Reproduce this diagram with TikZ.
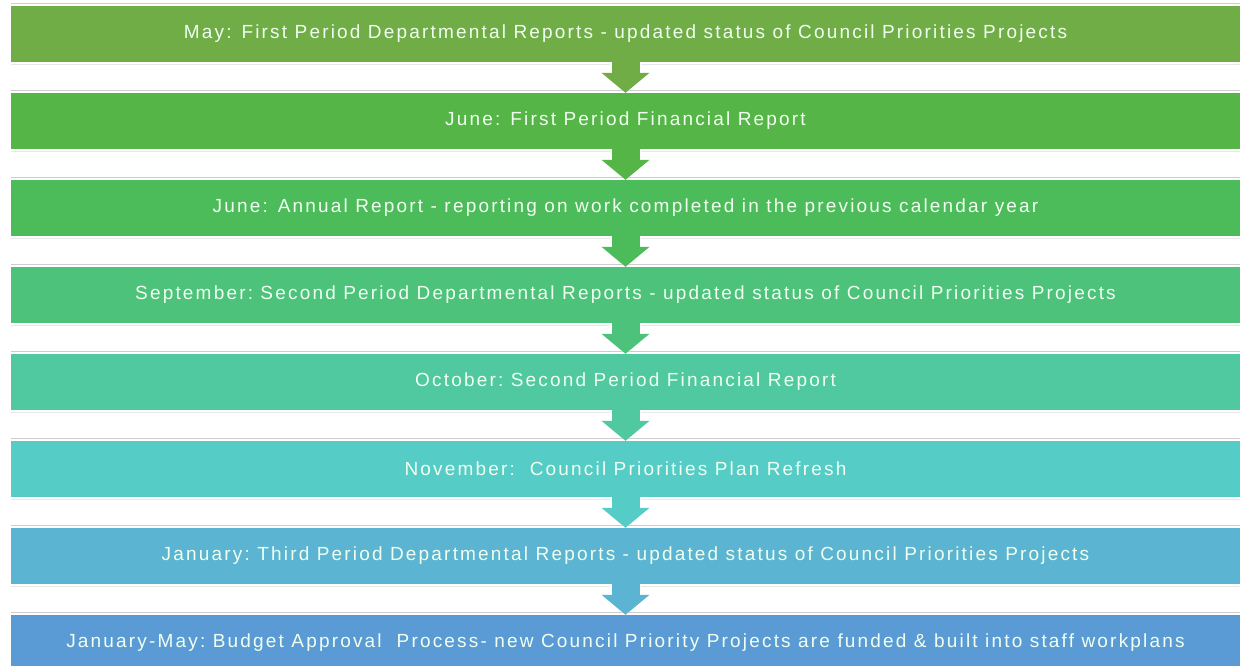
\documentclass[tikz,border=0pt]{standalone}
\usepackage{fontspec}
\setmainfont{Liberation Sans}
\newfontfamily\repfont[LetterSpace=11.5]{Liberation Sans}
\usetikzlibrary{arrows.meta}

\definecolor{rep1}{HTML}{70AD47}
\definecolor{rep2}{HTML}{55B546}
\definecolor{rep3}{HTML}{4CBB5A}
\definecolor{rep4}{HTML}{4CC27A}
\definecolor{rep5}{HTML}{50C8A0}
\definecolor{rep6}{HTML}{55CCC5}
\definecolor{rep7}{HTML}{5AB4D2}
\definecolor{rep8}{HTML}{5B9BD5}

\tikzset{
  report/.style={fill=#1, text=white!94!green, minimum width=1229pt, minimum height=56pt,
    inner sep=0pt, font=\repfont\fontsize{19}{21}\selectfont},
  flowedge/.style={white, line width=31pt, -{Triangle[width=53pt,length=22pt]}},
  flow/.style={#1, line width=28pt, -{Triangle[width=47pt,length=20pt]}}
}

\begin{document}
\begin{tikzpicture}[x=1pt,y=-1pt]
\useasboundingbox (0,0) rectangle (1245,666);

% boxes %
\foreach \i/\txt in {
  1/{May: First Period Departmental\ Reports\ - updated\ status of Council Priorities Projects},
  2/{June: First Period Financial Report},
  3/{June: Annual Report\ - reporting\ on work completed in the previous\ calendar\ year},
  4/{September:\ Second Period Departmental\ Reports\ - updated\ status of Council Priorities Projects},
  5/{October:\ Second Period Financial Report},
  6/{November:\ \ Council Priorities Plan Refresh},
  7/{January:\ Third Period Departmental\ Reports\ - updated\ status of Council Priorities Projects},
  8/{January-May:\ Budget Approval\ \ Process- new Council Priority Projects are funded\ \& built into staff workplans}}
{
\node[report=rep\i] (r\i) at (625.5,{34+87*(\i-1)}) {\txt};
% shadow lines
\draw[gray!40, line width=0.7pt] ([yshift=2pt]r\i.north west) -- ([yshift=2pt]r\i.north east);
\draw[gray!18, line width=0.7pt] ([yshift=-2pt]r\i.south west) -- ([yshift=-2pt]r\i.south east);
}

% arrows %
\foreach \i [evaluate=\i as \j using int(\i+1)] in {1,...,7}
{
\draw[flowedge] (r\i.south) -- (r\j.north);
\draw[flow=rep\i] (r\i.south) -- (r\j.north);
}

\end{tikzpicture}
\end{document}
